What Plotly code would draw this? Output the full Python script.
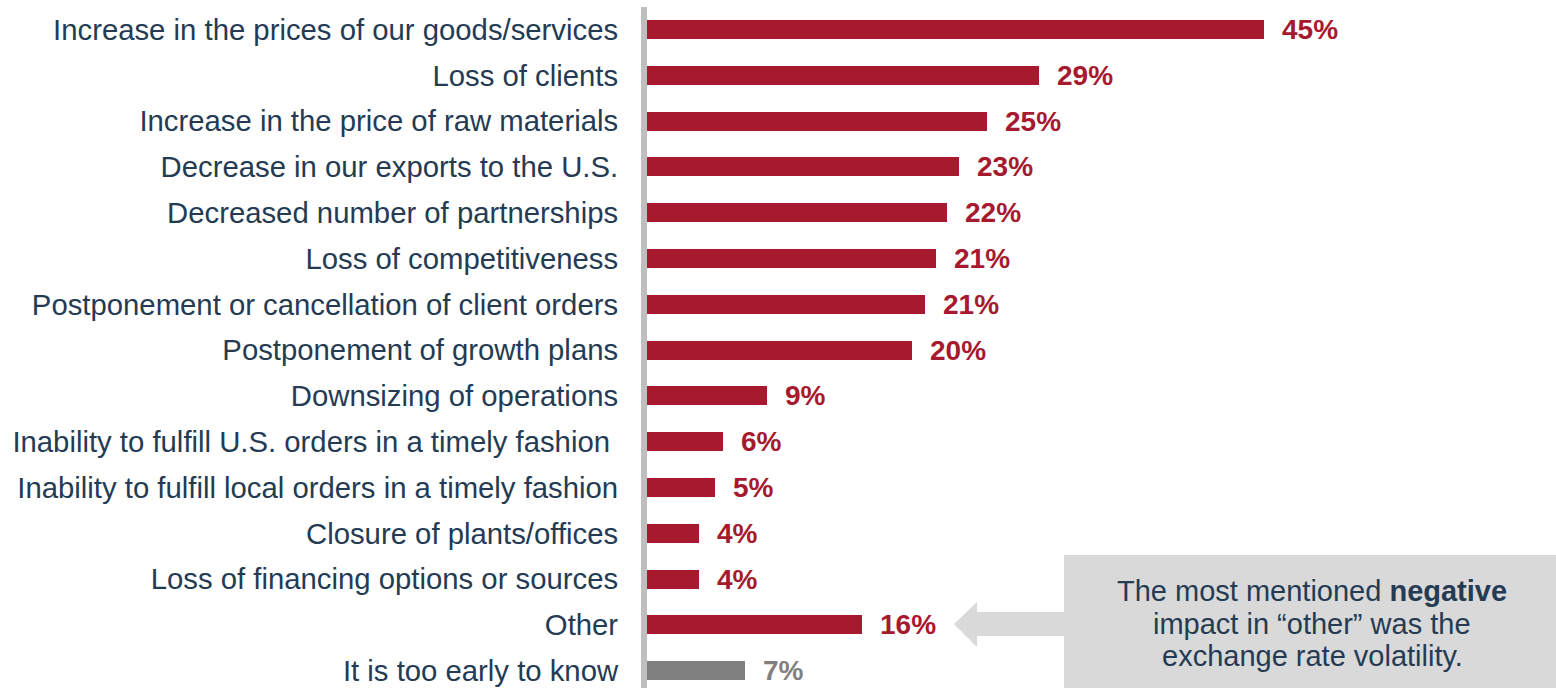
import plotly.graph_objects as go

categories = [
    "Increase in the prices of our goods/services",
    "Loss of clients",
    "Increase in the price of raw materials",
    "Decrease in our exports to the U.S.",
    "Decreased number of partnerships",
    "Loss of competitiveness",
    "Postponement or cancellation of client orders",
    "Postponement of growth plans",
    "Downsizing of operations",
    "Inability to fulfill U.S. orders in a timely fashion\u00a0",
    "Inability to fulfill local orders in a timely fashion",
    "Closure of plants/offices",
    "Loss of financing options or sources",
    "Other",
    "It is too early to know",
]
# bar lengths (percent)
values = [45.4, 28.9, 25.0, 23.0, 22.1, 21.3, 20.5, 19.5, 8.8, 5.6, 5.0, 3.8, 3.8, 15.8, 7.2]
# labels as printed on the chart
value_labels = ["45%", "29%", "25%", "23%", "22%", "21%", "21%", "20%", "9%", "6%", "5%", "4%", "4%", "16%", "7%"]

RED = "#A6192E"
GRAY = "#808080"
TEXT = "#243B53"
FONT = "Liberation Sans, Arial, sans-serif"
colors = [RED] * 14 + [GRAY]

# figure fills the window (body margin removed in post_script)
OFF = 0
W, H = 1556, 688
L, T, R, B = 647, 7, 0, 0
PW, PH = W - L - R, H - T - B


def px(xs):
    """screen pixel x -> paper x"""
    return (xs - OFF - L) / PW


def py(ys):
    """screen pixel y -> paper y"""
    return (OFF + H - B - ys) / PH


fig = go.Figure()
fig.add_trace(go.Bar(
    x=values, y=categories, orientation="h",
    marker=dict(color=colors, line=dict(width=0)),
    width=0.415, hoverinfo="skip",
))

for c, v, lab, col in zip(categories, values, value_labels, colors):
    fig.add_annotation(
        x=v, y=c, xref="x", yref="y", text="<b>%s</b>" % lab,
        showarrow=False, xanchor="left", yanchor="middle", xshift=16,
        font=dict(family=FONT, size=28, color=col),
    )

# callout box
fig.add_shape(type="rect", xref="paper", yref="paper",
              x0=px(1064), x1=px(1560), y0=py(692), y1=py(555),
              fillcolor="#D9D9D9", line=dict(width=0), layer="above")
# arrow
pts = [(954, 624), (977, 602), (977, 612), (1065, 612), (1065, 636), (977, 636), (977, 647)]
path = "M " + " L ".join("%.5f,%.5f" % (px(a), py(b)) for a, b in pts) + " Z"
fig.add_shape(type="path", xref="paper", yref="paper", path=path,
              fillcolor="#D9D9D9", line=dict(width=0), layer="above")

callout_lines = [
    "The most mentioned <b>negative</b>",
    "impact in \u201cother\u201d was the",
    "exchange rate volatility.",
]
callout_y = [591, 623.5, 656]
for line, ys in zip(callout_lines, callout_y):
    fig.add_annotation(
        x=px(1312), y=py(ys), xref="paper", yref="paper",
        text=line, showarrow=False, xanchor="center", yanchor="middle",
        font=dict(family=FONT, size=29, color=TEXT),
    )

# rows: first centre at screen y 29.5, spacing 45.8 px
row_h = 45.8
top_idx = -(29.5 - (OFF + T)) / row_h
bot_idx = top_idx + PH / row_h

fig.update_layout(
    width=W, height=H,
    margin=dict(l=L, r=R, t=T, b=B, pad=0),
    plot_bgcolor="white", paper_bgcolor="white",
    showlegend=False,
    bargap=0,
    hovermode=False,
    xaxis=dict(range=[0, PW / 13.58], visible=False, showgrid=False, zeroline=False),
    yaxis=dict(
        type="category", categoryorder="array", categoryarray=categories,
        range=[bot_idx, top_idx],
        showline=True, linewidth=6, linecolor="#BFBFBF",
        showgrid=False, zeroline=False, ticks="",
        ticklabelstandoff=17,
        tickfont=dict(family=FONT, size=29.3, color=TEXT),
    ),
)

fig.write_html(
    "out.html",
    config={"displayModeBar": False, "staticPlot": True},
    post_script="document.body.style.margin='0';document.body.style.overflow='hidden';",
)
